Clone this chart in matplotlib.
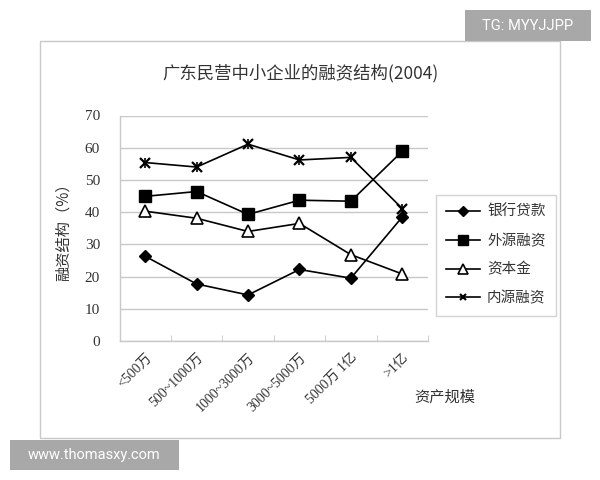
import matplotlib
matplotlib.use("Agg")
import matplotlib.pyplot as plt
from matplotlib.patches import Rectangle
from matplotlib.lines import Line2D
import numpy as np

categories = ["<500万", "500~1000万", "1000~3000万", "3000~5000万", "5000万 1亿", ">1亿"]
bank_loan = [26.3, 17.7, 14.3, 22.2, 19.5, 38.5]
external = [44.9, 46.4, 39.3, 43.7, 43.4, 58.9]
capital = [40.3, 38.1, 34.0, 36.5, 26.8, 20.8]
internal = [55.4, 54.0, 61.1, 56.2, 57.0, 41.1]
series_names = ["银行贷款", "外源融资", "资本金", "内源融资"]
yticks = [0, 10, 20, 30, 40, 50, 60, 70]

CJK = ["Noto Sans CJK SC", "DejaVu Sans"]
SERIF = ["Liberation Serif", "DejaVu Serif"]
plt.rcParams['font.family'] = CJK

W, H = 600, 480
fig = plt.figure(figsize=(6, 4.8), dpi=100)

def fx(px):
    return px / W

def fy(py):
    return 1 - py / H

# outer frame
fig.patches.append(Rectangle((fx(40), fy(438)), fx(560) - fx(40), fy(41) - fy(438),
                             transform=fig.transFigure, fill=False, edgecolor="#c8c8c8", lw=1.0))
# TG badge
fig.patches.append(Rectangle((fx(465), fy(41)), fx(591) - fx(465), fy(10) - fy(41),
                             transform=fig.transFigure, facecolor="#a8a8a8", edgecolor="none"))
fig.text(fx(528), fy(25.5), "TG: MYYJJPP", color="white", fontsize=10.5,
         family=["Roboto", "DejaVu Sans"], ha="center", va="center")
# watermark badge
fig.patches.append(Rectangle((fx(10), fy(470)), fx(179) - fx(10), fy(440) - fy(470),
                             transform=fig.transFigure, facecolor="#a8a8a8", edgecolor="none"))
fig.text(fx(94.5), fy(455), "www.thomasxy.com", color="white", fontsize=10.5,
         family=["Roboto", "DejaVu Sans"], ha="center", va="center")

ax = fig.add_axes([fx(119.5), fy(341), fx(428) - fx(119.5), fy(115.5) - fy(341)])
x = np.arange(len(categories))

lc = "black"
lw = 1.2
ax.plot(x, bank_loan, color=lc, lw=lw, marker="D", ms=6, mfc="black", mec="black", zorder=3)
ax.plot(x, external, color=lc, lw=lw, marker="s", ms=8, mfc="black", mec="black", zorder=3)
ax.plot(x, capital, color=lc, lw=lw, marker="^", ms=8, mfc="white", mec="black", mew=1.2, zorder=3)
ax.plot(x, internal, color=lc, lw=lw, marker="x", ms=6.5, mec="black", mew=1.6, zorder=3)
ax.plot(x, internal, ls="none", marker="|", ms=7.5, mec="black", mew=1.2, zorder=3)

ax.set_xlim(-0.5, len(categories) - 0.5)
ax.set_ylim(0, 70)
ax.set_yticks(yticks)
ax.set_yticklabels([str(v) for v in yticks], family=SERIF, fontsize=11, color="#333333")
ax.yaxis.grid(True, color="#c8c8c8", lw=1.0)
ax.set_axisbelow(True)
ax.tick_params(axis="y", length=0, pad=14)

ax.set_xticks(x)
ax.set_xticklabels(categories, rotation=45, ha="right", va="top", rotation_mode="anchor",
                   fontsize=10, color="#333333", family=["Liberation Serif", "Noto Sans CJK SC"])
ax.tick_params(axis="x", length=0, pad=7)
ax.set_xticks(np.arange(len(categories) + 1) - 0.5, minor=True)
ax.tick_params(axis="x", which="minor", length=4, direction="in", color="#c8c8c8")

for s in ["top", "right"]:
    ax.spines[s].set_visible(False)
for s in ["left", "bottom"]:
    ax.spines[s].set_color("#c8c8c8")
    ax.spines[s].set_linewidth(1.0)

fig.text(fx(300), fy(73), "广东民营中小企业的融资结构(2004)", fontsize=12.5, ha="center", va="center",
         color="#333333")
fig.text(fx(63), fy(228), "融资结构（%）", fontsize=11, rotation=90, ha="center", va="center",
         color="#333333")
fig.text(fx(445), fy(397), "资产规模", fontsize=11, ha="center", va="center", color="#333333")

handles = [
    Line2D([], [], color=lc, lw=lw, marker="D", ms=5, mfc="black", mec="black"),
    Line2D([], [], color=lc, lw=lw, marker="s", ms=6.5, mfc="black", mec="black"),
    Line2D([], [], color=lc, lw=lw, marker="^", ms=6.5, mfc="white", mec="black", mew=1.2),
    Line2D([], [], color=lc, lw=lw, marker="x", ms=5, mec="black", mew=1.5),
]
leg = fig.legend(handles, series_names, loc="upper left", bbox_to_anchor=(fx(436), fy(195)),
                 bbox_transform=fig.transFigure, borderaxespad=0, frameon=True, fancybox=False,
                 edgecolor="#c8c8c8", fontsize=10.5, labelspacing=1.0, handlelength=2.3,
                 handletextpad=0.5, borderpad=0.7, labelcolor="#333333")
leg.get_frame().set_linewidth(1.0)

fig.savefig("out.png", dpi=100)
